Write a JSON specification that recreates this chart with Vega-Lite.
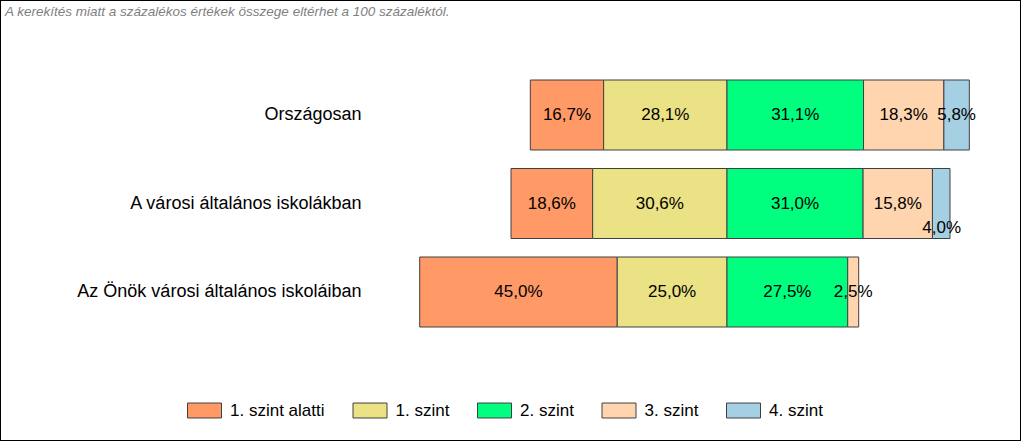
{
  "$schema": "https://vega.github.io/schema/vega-lite/v6.json",
  "width": 1021,
  "height": 441,
  "autosize": {"type": "none"},
  "padding": 0,
  "background": "white",
  "title": {
    "text": "A kerekítés miatt a  százalékos értékek összege eltérhet a 100 százaléktól.",
    "anchor": "start",
    "frame": "group",
    "orient": "top",
    "offset": 0,
    "dx": 5,
    "dy": 29,
    "baseline": "alphabetic",
    "font": "Liberation Sans",
    "fontSize": 13.5,
    "fontStyle": "italic",
    "fontWeight": "normal",
    "color": "#7F7F7F"
  },
  "data": {
    "values": [
      {"group": "Országosan", "level": "1. szint alatti", "value": -0.167},
      {"group": "Országosan", "level": "1. szint", "value": -0.281},
      {"group": "Országosan", "level": "2. szint", "value": 0.311},
      {"group": "Országosan", "level": "3. szint", "value": 0.183},
      {"group": "Országosan", "level": "4. szint", "value": 0.058},
      {"group": "A városi általános iskolákban", "level": "1. szint alatti", "value": -0.186},
      {"group": "A városi általános iskolákban", "level": "1. szint", "value": -0.306},
      {"group": "A városi általános iskolákban", "level": "2. szint", "value": 0.310},
      {"group": "A városi általános iskolákban", "level": "3. szint", "value": 0.158},
      {"group": "A városi általános iskolákban", "level": "4. szint", "value": 0.040},
      {"group": "Az Önök városi általános iskoláiban", "level": "1. szint alatti", "value": -0.450},
      {"group": "Az Önök városi általános iskoláiban", "level": "1. szint", "value": -0.250},
      {"group": "Az Önök városi általános iskoláiban", "level": "2. szint", "value": 0.275},
      {"group": "Az Önök városi általános iskoláiban", "level": "3. szint", "value": 0.025}
    ]
  },
  "encoding": {
    "y": {
      "field": "group",
      "type": "nominal",
      "sort": null,
      "scale": {
        "domain": ["Országosan", "A városi általános iskolákban", "Az Önök városi általános iskoláiban"],
        "paddingInner": 0.017,
        "paddingOuter": 1,
        "align": 0.404
      },
      "axis": {
        "title": null,
        "orient": "left",
        "offset": -361,
        "domain": false,
        "ticks": false,
        "grid": false,
        "labelPadding": 0,
        "labelFontSize": 18,
        "labelFont": "Liberation Sans",
        "labelColor": "black",
        "labelLimit": 400
      }
    }
  },
  "layer": [
    {
      "mark": {"type": "bar", "stroke": "#404040", "strokeWidth": 1, "opacity": 1, "height": 70},
      "encoding": {
        "x": {
          "field": "value",
          "type": "quantitative",
          "stack": "zero",
          "scale": {"domain": [-1.656, 0.6697], "nice": false, "zero": false},
          "axis": null
        },
        "color": {
          "field": "level",
          "type": "nominal",
          "scale": {
            "domain": ["1. szint alatti", "1. szint", "2. szint", "3. szint", "4. szint"],
            "range": ["#FF9966", "#EBE185", "#00FF7F", "#FFD5B0", "#A5CFE2"]
          },
          "legend": {
            "orient": "none",
            "legendX": 187,
            "legendY": 393,
            "direction": "horizontal",
            "columns": 5,
            "title": null,
            "symbolType": "M-1,-0.44H1V0.44H-1Z",
            "symbolSize": 1156,
            "symbolStrokeColor": "#404040",
            "symbolStrokeWidth": 1,
            "symbolOpacity": 1,
            "labelFontSize": 17,
            "labelFont": "Liberation Sans",
            "labelColor": "black",
            "labelOffset": 8,
            "columnPadding": 25.5
          }
        },
        "order": {"field": "level", "sort": "ascending"}
      }
    },
    {
      "transform": [{"filter": "!(datum.group === 'A városi általános iskolákban' && datum.level === '4. szint')"}],
      "mark": {"type": "text", "fontSize": 17, "font": "Liberation Sans", "color": "black", "baseline": "middle", "align": "center"},
      "encoding": {
        "x": {"field": "value", "type": "quantitative", "stack": "zero", "bandPosition": 0.5},
        "detail": {"field": "level"},
        "order": {"field": "level", "sort": "ascending"},
        "text": {"field": "value", "type": "quantitative", "format": ".1%"}
      }
    },
    {
      "transform": [{"filter": "datum.group === 'A városi általános iskolákban' && datum.level === '4. szint'"}],
      "mark": {"type": "text", "fontSize": 17, "font": "Liberation Sans", "color": "black", "baseline": "middle", "align": "center", "dy": 24},
      "encoding": {
        "x": {"datum": 0.489},
        "text": {"field": "value", "type": "quantitative", "format": ".1%"}
      }
    }
  ],
  "config": {
    "view": {"stroke": "black", "strokeWidth": 2},
    "locale": {
      "number": {"decimal": ",", "thousands": " ", "grouping": [3], "currency": ["", ""], "minus": ""}
    }
  }
}
